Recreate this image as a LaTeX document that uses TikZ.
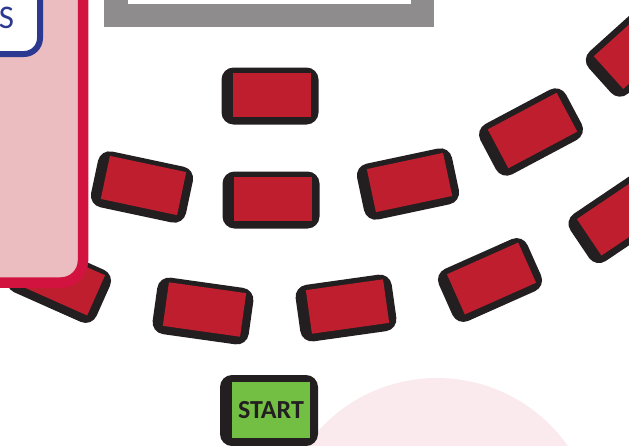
\documentclass[tikz,border=0pt]{standalone}
\usepackage{fontspec}
\setsansfont{Carlito}
\usepackage{tikz}
\usetikzlibrary{positioning}
\definecolor{tilered}{RGB}{190,30,45}
\definecolor{tileedge}{RGB}{35,31,32}
\definecolor{startgreen}{RGB}{114,191,68}
\definecolor{framegray}{RGB}{142,140,141}
\definecolor{panelpink}{RGB}{235,188,192}
\definecolor{panelred}{RGB}{210,18,63}
\definecolor{ruleblue}{RGB}{43,57,144}
\definecolor{blushpink}{RGB}{251,234,237}
\tikzset{
  tileback/.style={rectangle, rounded corners=12pt, fill=tileedge,
                   minimum width=97pt, minimum height=57pt, inner sep=0pt},
  tileface/.style={rectangle, fill=tilered, xshift=1.5pt, yshift=1.5pt,
                   minimum width=78pt, minimum height=44pt, inner sep=0pt},
  startback/.style={tileback, minimum width=98pt, minimum height=71pt},
  startface/.style={rectangle, fill=startgreen, xshift=2pt, yshift=0.5pt,
                    minimum width=78pt, minimum height=56pt, inner sep=0pt,
                    text=tileedge, font=\sffamily\bfseries\fontsize{26}{26}\selectfont},
  panel/.style={draw=panelred, fill=panelpink, line width=10.5pt, rounded corners=22pt},
  rulebox/.style={draw=ruleblue, fill=white, line width=6pt, rounded corners=16pt},
  ruletext/.style={text=ruleblue, inner sep=0pt, font=\sffamily\fontsize{33}{33}\selectfont}
}
% one road tile: name, x, y, angle
\newcommand{\roadtile}[4]{%
  \node[tileback, rotate=#4] (#1) at (#2,#3) {};
  \node[tileface, rotate=#4] (#1-face) at (#1.center) {};
}

\begin{document}
\begin{tikzpicture}[x=1pt,y=-1pt]
\useasboundingbox (0,0) rectangle (629,445);
\clip (0,0) rectangle (629,445);

% background
\fill[blushpink] (437,538) circle (160);
\fill[framegray] (104,-10) rectangle (434,27);
\fill[white] (128,-10) rectangle (411,4);

% road tiles, upper row
\roadtile{tileTop}{270}{96}{0}
\roadtile{tileC}{142}{187}{-12}
\roadtile{tileMid}{271}{200}{0}
\roadtile{tileD}{408}{184}{12}
\roadtile{tileE}{531}{132}{28}
\roadtile{tileF}{636}{48}{42}

% road tiles, lower row
\roadtile{tileG}{59}{281}{-24}
\roadtile{tileH}{203}{311}{-8}
\roadtile{tileI}{346}{308}{8}
\roadtile{tileJ}{490}{280}{24}
\roadtile{tileK}{620}{217}{34}

% rules panel
\draw[panel] (-40,-40) rectangle (83,282.5);
\draw[rulebox] (-60,-40) rectangle (40,54);
\node[ruletext] (rulesLabel) at (6.5,17.5) {S};

% start
\node[startback] (start) at (269,410.5) {};
\node[startface] (start-face) at (start.center) {START};
\end{tikzpicture}
\end{document}
